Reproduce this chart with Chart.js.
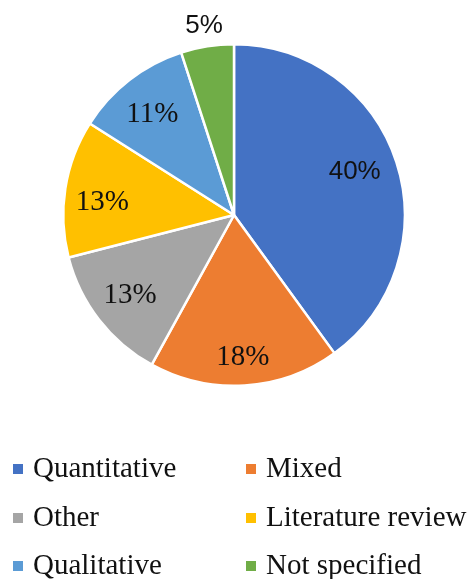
<!DOCTYPE html>
<html>
<head>
<meta charset="utf-8">
<script src="https://cdn.jsdelivr.net/npm/chart.js@4.4.0/dist/chart.umd.min.js"></script>
<style>
  html, body { margin: 0; padding: 0; background: #ffffff; }
  #wrap { position: relative; width: 469px; height: 579px; overflow: hidden; }
  #c { position: absolute; left: 0; top: 0; }
  #legend { position: absolute; left: 0; top: 0; width: 469px; height: 579px; pointer-events: none;
            font-family: "Liberation Serif", "Tinos", "Times New Roman", "Nimbus Roman", "DejaVu Serif", serif;
            font-size: 29px; color: #111; }
  .item { position: absolute; white-space: nowrap; line-height: 1; }
  .sw { position: absolute; width: 10px; height: 10px; }
</style>
</head>
<body>
<div id="wrap">
  <canvas id="c" width="469" height="579"></canvas>
  <div id="legend"></div>
</div>
<script>
// ---- data ----
const categories = ["Quantitative", "Mixed", "Other", "Literature review", "Qualitative", "Not specified"];
const shares = [40, 18, 13, 13, 11, 5];
const shareLabels = ["40%", "18%", "13%", "13%", "11%", "5%"];

// ---- styles ----
const colors = ["#4472C4", "#ED7D31", "#A5A5A5", "#FFC000", "#5B9BD5", "#70AD47"];
const labelRadius = [0.75, 0.835, 0.77, 0.775, 0.76, 1.12];
const labelAngleShift = [-1.5, 0, 0, -3.4, -1.2, 0]; // degrees
const SERIF = '"Liberation Serif", "Tinos", "Times New Roman", "Nimbus Roman", "DejaVu Serif", serif';
const SANS = '"Liberation Sans", Arial, sans-serif';
const labelFonts = ['26px ' + SANS, '29px ' + SERIF, '29px ' + SERIF, '29px ' + SERIF, '29px ' + SERIF, '26px ' + SANS];
// legend layout: [left, centerY] for each item
const legendPos = [[13, 469], [246, 469], [13, 518], [246, 518], [13, 566], [246, 566]];

const labelPlugin = {
  id: 'sliceLabels',
  afterDatasetsDraw(chart) {
    const ctx = chart.ctx;
    const meta = chart.getDatasetMeta(0);
    meta.data.forEach((arc, i) => {
      const p = arc.getProps(['x', 'y', 'startAngle', 'endAngle', 'outerRadius'], true);
      const mid = (p.startAngle + p.endAngle) / 2 + labelAngleShift[i] * Math.PI / 180;
      const r = p.outerRadius * labelRadius[i];
      ctx.save();
      ctx.font = labelFonts[i];
      ctx.fillStyle = '#111111';
      ctx.textAlign = 'center';
      ctx.textBaseline = 'middle';
      ctx.fillText(shareLabels[i], p.x + Math.cos(mid) * r, p.y + Math.sin(mid) * r);
      ctx.restore();
    });
  }
};

new Chart(document.getElementById('c'), {
  type: 'pie',
  data: {
    labels: categories,
    datasets: [{
      data: shares,
      backgroundColor: colors,
      borderColor: '#ffffff',
      borderWidth: 2.5
    }]
  },
  options: {
    responsive: false,
    animation: false,
    layout: { padding: { left: 62, right: 63, top: 43, bottom: 192 } },
    plugins: { legend: { display: false }, tooltip: { enabled: false } }
  },
  plugins: [labelPlugin]
});

// HTML legend built from the same arrays
const leg = document.getElementById('legend');
categories.forEach((name, i) => {
  const [x, cy] = legendPos[i];
  const sw = document.createElement('div');
  sw.className = 'sw';
  sw.style.left = x + 'px';
  sw.style.top = (cy - 5) + 'px';
  sw.style.background = colors[i];
  leg.appendChild(sw);
  const t = document.createElement('div');
  t.className = 'item';
  t.textContent = name;
  t.style.left = (x + 20) + 'px';
  t.style.top = (cy - 16) + 'px';
  leg.appendChild(t);
});
</script>
</body>
</html>
